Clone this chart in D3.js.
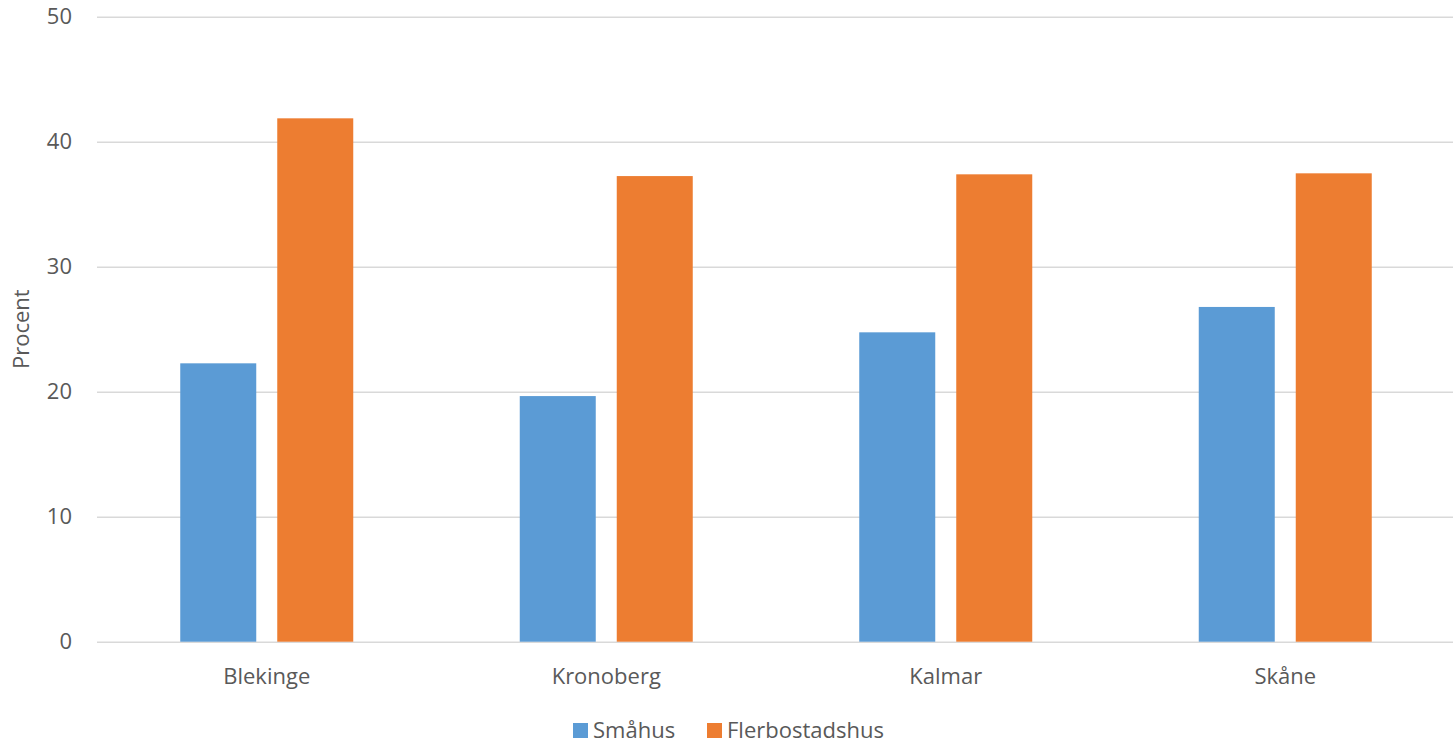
<!DOCTYPE html>
<html><head><meta charset="utf-8">
<script src="https://cdn.jsdelivr.net/npm/d3@7"></script>
<style>html,body{margin:0;padding:0;background:#fff;} svg{display:block;}</style>
</head><body>
<svg id="chart" width="1453" height="745"></svg>
<script>
const categories = ["Blekinge", "Kronoberg", "Kalmar", "Skåne"];
const seriesNames = ["Småhus", "Flerbostadshus"];
const smahus = [22.27, 19.65, 24.75, 26.78];
const flerbostadshus = [41.87, 37.25, 37.39, 37.47];
const yTicks = [0, 10, 20, 30, 40, 50];
const colors = ["#5b9bd5", "#ed7d31"];

(function () {
const seriesValues = [smahus, flerbostadshus];
const font = "'Open Sans', sans-serif";
const textColor = "#595959";

const svg = d3.select("#chart");
const pLeft = 97, pRight = 1455, pTop = 16.7, pBottom = 641.7;

const x0 = d3.scaleBand().domain(categories).range([pLeft, pRight]).paddingInner(0).paddingOuter(0);
const bw = x0.bandwidth();
const x1 = d3.scaleBand().domain(seriesNames).range([83.25, bw - 83.25]).paddingInner(0.2165).paddingOuter(0);
const y = d3.scaleLinear().domain([0, 50]).range([pBottom, pTop]);

// gridlines
const yAxis = d3.axisLeft(y).tickValues(yTicks).tickSize(-(pRight - pLeft)).tickPadding(25).tickFormat(d3.format("d"));
const gy = svg.append("g").attr("transform", `translate(${pLeft},0)`).call(yAxis);
gy.select(".domain").remove();
gy.selectAll(".tick line").attr("stroke", "#d9d9d9").attr("stroke-width", 1.5);
gy.selectAll(".tick text").attr("fill", textColor).attr("font-family", font).attr("font-size", 22);

// bars
const groups = svg.append("g").selectAll("g").data(categories).join("g")
  .attr("transform", d => `translate(${x0(d)},0)`);
groups.selectAll("rect").data((c, i) => seriesNames.map((s, j) => ({s, v: seriesValues[j][i], j})))
  .join("rect")
  .attr("x", d => x1(d.s))
  .attr("width", x1.bandwidth())
  .attr("y", d => y(d.v))
  .attr("height", d => y(0) - y(d.v))
  .attr("fill", d => colors[d.j]);

// x axis labels
const xAxis = d3.axisBottom(x0).tickSize(0).tickPadding(27);
const gx = svg.append("g").attr("transform", `translate(0,${pBottom})`).call(xAxis);
gx.select(".domain").remove();
gx.selectAll(".tick text").attr("fill", textColor).attr("font-family", font).attr("font-size", 22);

// y title
svg.append("text").attr("transform", `translate(29,${(pTop + pBottom) / 2}) rotate(-90)`)
  .attr("text-anchor", "middle").attr("fill", textColor).attr("font-family", font).attr("font-size", 22)
  .text("Procent");

// legend
const legendX = [573, 707];
const lg = svg.append("g").selectAll("g").data(seriesNames).join("g")
  .attr("transform", (d, i) => `translate(${legendX[i]},723)`);
lg.append("rect").attr("width", 15).attr("height", 15).attr("fill", (d, i) => colors[i]);
lg.append("text").attr("x", 20).attr("y", 14.5).attr("fill", textColor).attr("font-family", font)
  .attr("font-size", 22).text(d => d);
})();
</script>
</body></html>
